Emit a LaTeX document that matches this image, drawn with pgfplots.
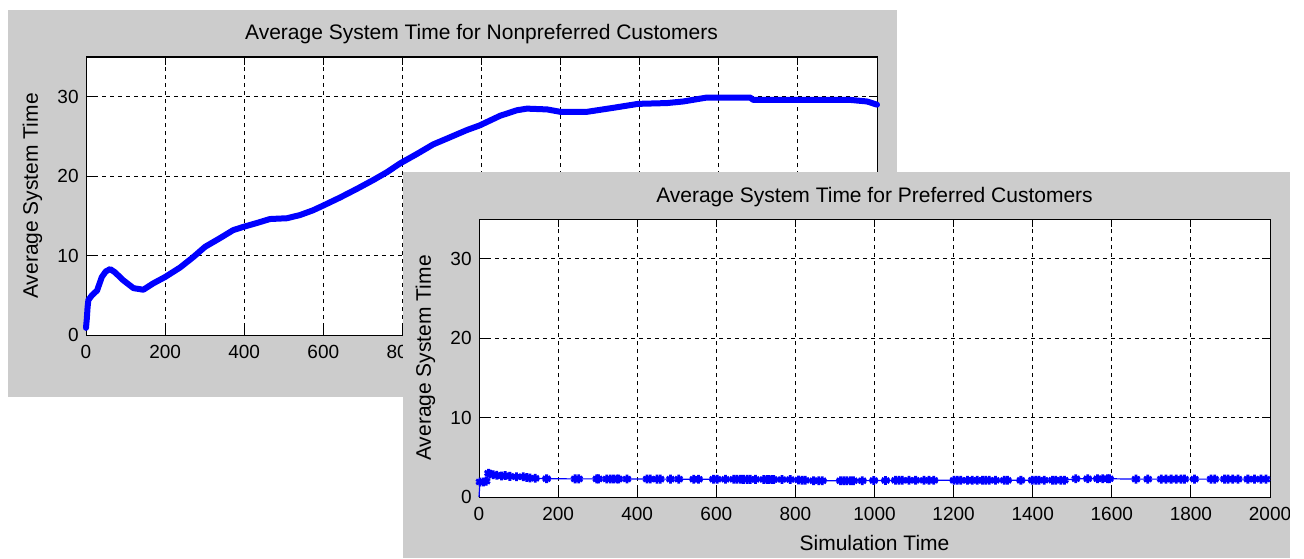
\documentclass[border=0pt]{standalone}
\usepackage{fontspec}
\setmainfont{Liberation Sans}
\usepackage{pgfplots}
\pgfplotsset{compat=1.18}

\definecolor{wingray}{gray}{0.8}
\newcommand{\lblfont}{\fontsize{10.5}{12}\selectfont}

\pgfplotsset{
  mlab/.style={
    anchor=south west, scale only axis, width=395.5pt, height=139pt,
    xmin=0, xmax=2000, ymin=0, ymax=35,
    xtick={0,200,...,2000}, ytick={0,10,20,30},
    axis background/.style={fill=white},
    axis line style={black, line width=0.5pt},
    grid=major, major grid style={black, line width=0.5pt, dash pattern=on 2pt off 2pt},
    tick align=inside, xtick pos=both, ytick pos=both, major tick length=4pt,
    every tick/.style={black, line width=0.5pt},
    /pgf/number format/assume math mode=true, /pgf/number format/1000 sep={},
    scaled ticks=false,
    tick label style={font=\fontsize{9.5}{11}\selectfont, text=black},
    xticklabel style={anchor=north, inner sep=0pt, yshift=-5pt},
    yticklabel style={anchor=east, inner sep=0pt, xshift=-3.5pt},
    title style={font=\lblfont, at={(axis description cs:0.5,1)}, anchor=base, yshift=2.5pt, inner sep=0pt},
    ylabel style={font=\lblfont, at={(axis description cs:-0.0607,0.5)}, anchor=base, inner sep=0pt},
    xlabel style={font=\lblfont, at={(axis description cs:0.5,0)}, anchor=base, yshift=-26.5pt, inner sep=0pt},
    clip=false,
  }
}

% average system time, nonpreferred customers
\pgfplotstableread{
x y
0 0.9
2 2.0
4 3.5
6 4.4
15 5.0
28 5.6
40 7.3
50 8.0
61 8.3
73 7.9
94 6.9
120 5.9
145 5.7
170 6.5
200 7.3
238 8.5
271 9.8
301 11.1
339 12.2
372 13.2
397 13.6
432 14.1
465 14.6
508 14.7
541 15.1
574 15.7
600 16.3
642 17.3
685 18.4
726 19.5
761 20.5
794 21.6
837 22.8
878 24.0
916 24.8
963 25.8
996 26.4
1047 27.6
1090 28.3
1115 28.5
1166 28.4
1199 28.1
1267 28.1
1333 28.6
1396 29.1
1469 29.2
1510 29.4
1570 29.9
1679 29.9
1687 29.6
1932 29.6
1975 29.4
2000 29.0
}\nonpref

% average system time, preferred customers
\pgfplotstableread{
x y
0 0
2.5 1.9
11 1.9
18 2.0
24 3.0
28 2.9
36 2.8
45 2.75
57 2.65
66 2.7
78 2.6
95 2.55
112 2.55
121 2.45
129 2.4
142 2.35
171 2.3
243 2.28
252 2.28
298 2.28
302 2.28
323 2.27
332 2.27
340 2.27
349 2.27
353 2.27
374 2.26
425 2.26
433 2.26
450 2.25
458 2.25
484 2.25
505 2.25
543 2.24
555 2.24
593 2.24
602 2.24
623 2.23
644 2.23
652 2.23
661 2.23
669 2.22
678 2.22
686 2.22
699 2.22
720 2.21
728 2.21
733 2.21
741 2.2
745 2.2
766 2.2
787 2.2
808 2.15
817 2.12
825 2.1
846 2.05
859 2.05
868 2.05
914 2.05
922 2.05
930 2.05
939 2.05
947 2.05
969 2.05
998 2.08
1028 2.08
1053 2.1
1062 2.1
1070 2.1
1087 2.1
1104 2.1
1125 2.1
1138 2.1
1150 2.1
1201 2.1
1209 2.1
1218 2.1
1235 2.1
1247 2.1
1260 2.1
1273 2.1
1281 2.1
1290 2.1
1306 2.1
1328 2.1
1336 2.1
1370 2.1
1399 2.12
1408 2.12
1416 2.12
1429 2.12
1450 2.12
1458 2.12
1471 2.12
1480 2.12
1509 2.3
1539 2.3
1564 2.3
1577 2.3
1589 2.3
1594 2.3
1661 2.25
1691 2.25
1725 2.25
1737 2.25
1750 2.25
1763 2.25
1775 2.25
1784 2.25
1809 2.25
1851 2.25
1860 2.25
1885 2.25
1894 2.25
1906 2.25
1919 2.25
1944 2.25
1961 2.25
1977 2.25
1990 2.25
}\pref

\begin{document}
\begin{tikzpicture}
\fill[white] (0,0) rectangle (652pt,279pt);
\fill[wingray] (4pt,80.5pt) rectangle (448.5pt,274pt);

\begin{axis}[mlab, at={(43pt,111.5pt)},
  title={Average System Time for Nonpreferred Customers},
  ylabel={Average System Time}]
\addplot[blue, line width=3pt, line join=round, line cap=round] table {\nonpref};
\end{axis}

\fill[wingray] (201.5pt,0pt) rectangle (645pt,193pt);

\begin{axis}[mlab, at={(239.5pt,30.5pt)},
  title={Average System Time for Preferred Customers},
  ylabel={Average System Time}, xlabel={Simulation Time}]
\addplot[blue, line width=0.6pt, mark=asterisk, mark size=2.2pt,
  mark phase=2, mark options={line width=1.4pt}] table {\pref};
\end{axis}

\fill[white] (645pt,0) rectangle (652pt,193pt);
\end{tikzpicture}
\end{document}
